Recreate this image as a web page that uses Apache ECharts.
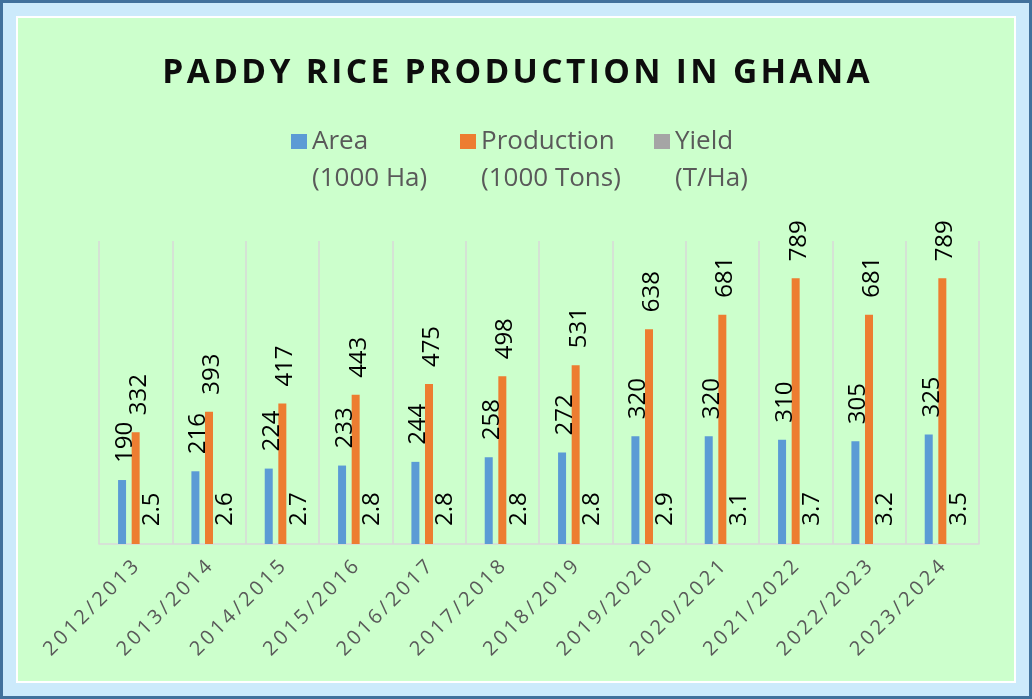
<!DOCTYPE html>
<html>
<head>
<meta charset="utf-8">
<script src="https://cdn.jsdelivr.net/npm/echarts@6/dist/echarts.min.js"></script>
<style>
html,body{margin:0;padding:0;background:#41719c;}
#chart{width:1032px;height:699px;}
</style>
</head>
<body>
<div id="chart"></div>
<script>
const titleText = 'PADDY RICE PRODUCTION IN GHANA';
const categories = ['2012/2013','2013/2014','2014/2015','2015/2016','2016/2017','2017/2018','2018/2019','2019/2020','2020/2021','2021/2022','2022/2023','2023/2024'];
const seriesNames = ['Area\n(1000 Ha)', 'Production\n(1000 Tons)', 'Yield\n(T/Ha)'];
const area = [190,216,224,233,244,258,272,320,320,310,305,325];
const production = [332,393,417,443,475,498,531,638,681,789,681,789];
const yieldVals = [2.5,2.6,2.7,2.8,2.8,2.8,2.8,2.9,3.1,3.7,3.2,3.5];
const colors = ['#5b9bd5','#ed7d31','#a5a5a5'];

const FONT = 'Open Sans';
const spaced = (s, sp) => s.split('').join(sp);

const chart = echarts.init(document.getElementById('chart'), null, {renderer:'canvas'});

const labelStyle = {
  show: true, position: 'top', rotate: 90, align: 'left', verticalAlign: 'middle',
  distance: 17, offset: [0, 3], color: '#000', fontSize: 24, fontFamily: FONT
};

// square icon sitting at the first text line of a two-line legend item
const legendIcon = 'path://M0 0L16 0M0 11L16 11L16 26L0 26ZM0 74L16 74';
const legendLefts = [291, 460, 654];
const legends = seriesNames.map((n, i) => ({
  data: [{name: n, itemStyle: {color: colors[i], opacity: 1}}],
  left: legendLefts[i], top: 123, padding: 0,
  icon: legendIcon, itemWidth: 16, itemHeight: 74, selectedMode: false,
  textStyle: {color: '#595959', fontSize: 26, fontFamily: FONT, lineHeight: 37}
}));

const values = [area, production, yieldVals];

chart.setOption({
  backgroundColor: '#41719c',
  animation: false,
  color: colors,
  graphic: [
    {type:'rect', z:-10, silent:true, shape:{x:3,y:3,width:1026,height:693}, style:{fill:'#cceafb'}},
    {type:'rect', z:-9, silent:true, shape:{x:17,y:17,width:998,height:665}, style:{fill:'#ccffcc', stroke:'#ffffff', lineWidth:2}}
  ],
  title: {
    text: spaced(titleText, '\u200A'), left: 'center', top: 51,
    textStyle: {fontSize: 33.5, fontWeight: 'bold', color: '#0d0d0d', fontFamily: FONT}
  },
  legend: legends,
  grid: {left: 99, right: 53, top: 241, bottom: 155},
  xAxis: {
    type: 'category', data: categories,
    axisLine: {lineStyle: {color: '#d9d9d9', width: 1.5}},
    axisTick: {show: false},
    splitLine: {show: true, interval: 0, lineStyle: {color: '#d9d9d9', width: 1.5}},
    axisLabel: {
      rotate: 45, interval: 0, color: '#595959', fontSize: 20, fontFamily: FONT, margin: 20,
      formatter: v => spaced(v, '\u2009')
    }
  },
  yAxis: {type: 'value', min: 0, max: 900, show: false, splitLine: {show: false}},
  series: seriesNames.map((n, i) => ({
    name: n, type: 'bar', data: values[i], barWidth: 8, barGap: '70%',
    itemStyle: i === 2 ? {color: 'rgba(165,165,165,0)'} : {},
    label: labelStyle
  }))
});
</script>
</body>
</html>
